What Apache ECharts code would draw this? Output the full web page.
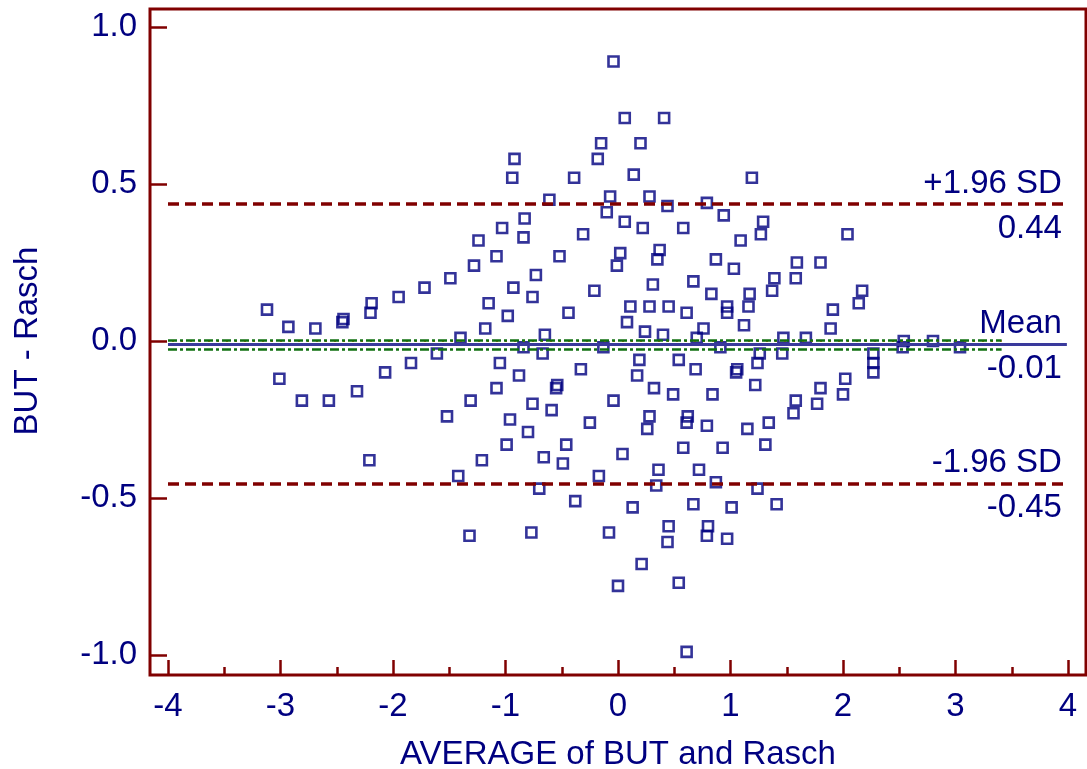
<!DOCTYPE html>
<html lang="en">
<head>
<meta charset="UTF-8">
<title>BUT - Rasch</title>
<script src="https://cdn.jsdelivr.net/npm/echarts@6/dist/echarts.min.js"></script>
<style>
    html, body { margin: 0; padding: 0; background: #fff; }
    #chart { width: 1087px; height: 769px; }
</style>
</head>
<body>
<div id="chart"></div>
<script>
    // AVERAGE of BUT and Rasch
    var avgVals = [
        -3.12,-3.01,-2.93,-2.81,-2.69,-2.57,-2.44,-2.45,-2.32,-2.19,
        -2.20,-2.21,-2.07,-1.95,-1.84,-1.72,-1.61,-1.52,-1.49,-1.42,
        -1.40,-1.32,-1.31,-1.28,-1.24,-1.21,-1.18,-1.15,-1.08,-1.08,
        -1.05,-1.03,-0.98,-0.99,-0.96,-0.94,-0.92,-0.93,-0.88,-0.84,
        -0.84,-0.83,-0.80,-0.77,-0.76,-0.76,-0.73,-0.70,-0.67,-0.66,
        -0.65,-0.61,-0.59,-0.54,-0.55,-0.52,-0.49,-0.46,-0.44,-0.39,
        -0.38,-0.33,-0.31,-0.25,-0.21,-0.18,-0.17,-0.15,-0.13,-0.10,
        -0.08,-0.07,-0.04,-0.04,-0.01,0.00,0.02,0.04,0.06,0.06,
        0.08,0.11,0.13,0.14,0.17,0.19,0.20,0.21,0.22,0.24,
        0.26,0.28,0.28,0.31,0.28,0.32,0.34,0.35,0.36,0.37,
        0.40,0.41,0.44,0.49,0.45,0.45,0.44,0.54,0.54,0.58,
        0.58,0.61,0.61,0.62,0.61,0.67,0.67,0.69,0.72,0.70,
        0.76,0.79,0.79,0.80,0.79,0.83,0.84,0.87,0.87,0.91,
        0.93,0.94,0.97,0.97,0.97,1.01,1.03,1.06,1.05,1.09,
        1.12,1.15,1.16,1.17,1.19,1.22,1.24,1.24,1.26,1.27,
        1.29,1.31,1.34,1.37,1.39,1.41,1.46,1.47,1.56,1.58,
        1.58,1.59,1.67,1.77,1.80,1.80,1.89,1.91,2.00,2.02,
        2.04,2.14,2.17,2.27,2.27,2.27,2.53,2.54,2.80,3.04
    ];
    // BUT - Rasch
    var diffVals = [
        0.10,-0.12,0.045,-0.19,0.04,-0.19,0.07,0.06,-0.16,0.12,
        0.09,-0.38,-0.10,0.14,-0.07,0.17,-0.04,-0.24,0.20,-0.43,
        0.01,-0.62,-0.19,0.24,0.32,-0.38,0.04,0.12,-0.15,0.27,
        -0.07,0.36,0.08,-0.33,-0.25,0.52,0.58,0.17,-0.11,0.33,
        -0.02,0.39,-0.29,-0.61,0.14,-0.20,0.21,-0.47,-0.04,-0.37,
        0.02,0.45,-0.22,-0.14,-0.15,0.27,-0.39,-0.33,0.09,0.52,
        -0.51,-0.09,0.34,-0.26,0.16,0.58,-0.43,0.63,-0.02,0.41,
        -0.61,0.46,-0.19,0.89,0.24,-0.78,0.28,-0.36,0.71,0.38,
        0.06,0.11,-0.53,0.53,-0.11,-0.06,0.63,-0.71,0.36,0.03,
        -0.28,-0.24,0.46,0.18,0.11,-0.15,-0.46,0.26,-0.41,0.29,
        0.02,0.71,0.43,-0.17,0.11,-0.59,-0.64,-0.77,-0.06,0.36,
        -0.34,-0.99,0.09,-0.24,-0.26,0.19,-0.52,-0.09,-0.41,0.01,
        0.04,0.44,-0.27,-0.59,-0.62,0.15,-0.17,-0.45,0.26,-0.02,
        -0.34,0.40,0.11,0.09,-0.63,-0.53,0.23,-0.09,-0.10,0.32,
        0.05,-0.28,0.11,0.15,0.52,-0.14,-0.07,-0.47,-0.04,0.34,
        0.38,-0.33,-0.26,0.16,0.20,-0.52,-0.04,0.01,-0.23,-0.19,
        0.20,0.25,0.01,-0.20,-0.15,0.25,0.04,0.10,-0.17,-0.12,
        0.34,0.12,0.16,-0.04,-0.07,-0.10,-0.02,0.00,0.00,-0.02
    ];

    // limits of agreement: +1.96 SD, mean, -1.96 SD
    var limitVals = [0.436, -0.0095, -0.455];
    var limitNames = ['+1.96 SD', 'Mean', '-1.96 SD'];
    var limitLabels = ['0.44', '-0.01', '-0.45'];
    // confidence lines of the mean and zero line
    var ciVals = [0.003, -0.025];
    var zeroVal = 0;
    var lineStart = -4, lineEnd = 3.99, ciEnd = 3.41;

    var navy = '#000080';
    var frame = '#800000';
    var font = '"Liberation Sans", Arial, sans-serif';
    var fs = 33;

    var points = [];
    for (var i = 0; i < avgVals.length; i++) {
        points.push([avgVals[i], diffVals[i]]);
    }

    function hline(y, x0, x1, lineStyle, label) {
        return [
            {coord: [x0, y], lineStyle: lineStyle, label: label || {show: false}},
            {coord: [x1, y]}
        ];
    }

    var textStyle = {color: navy, fontSize: fs, fontFamily: font};
    var sdStyle = {color: frame, width: 3.5, type: [11, 6]};
    var markData = [];
    markData.push(hline(zeroVal, lineStart, ciEnd, {color: '#ff6a00', width: 2, type: [2, 7], dashOffset: 5}));
    markData.push(hline(ciVals[0], lineStart, ciEnd, {color: '#107010', width: 2.5, type: [9, 3, 3, 3]}));
    markData.push(hline(ciVals[1], lineStart, ciEnd, {color: '#107010', width: 2.5, type: [9, 3, 3, 3]}));
    for (var k = 0; k < limitVals.length; k++) {
        var st = k === 1 ? {color: '#3a3a9c', width: 3, type: 'solid'} : sdStyle;
        markData.push(hline(limitVals[k], lineStart, lineEnd, st,
            Object.assign({show: true, position: 'insideEndTop', distance: [5, 4], formatter: limitNames[k]}, textStyle)));
        markData.push(hline(limitVals[k], lineStart, lineEnd, {color: 'rgba(0,0,0,0)', width: 1},
            Object.assign({show: true, position: 'insideEndBottom', distance: [5, 8], formatter: limitLabels[k]}, textStyle)));
    }

    var option = {
        animation: false,
        backgroundColor: '#fff',
        grid: [
            {left: 150, top: 9, right: 1, bottom: 94, outerBoundsMode: 'none', containLabel: false,
                show: true, borderColor: frame, borderWidth: 3, backgroundColor: 'transparent'},
            {left: 168, top: 27, right: 19, bottom: 114, outerBoundsMode: 'none', containLabel: false}
        ],
        xAxis: [
            {gridIndex: 0, show: false, min: 0, max: 1},
            {
                gridIndex: 1, type: 'value', min: -4, max: 4, interval: 1, offset: 20,
                axisLine: {show: false, onZero: false},
                axisTick: {show: true, inside: true, length: 15, lineStyle: {color: frame, width: 2.5}},
                minorTick: {show: true, splitNumber: 2, length: 8, lineStyle: {color: frame, width: 2.5}},
                splitLine: {show: false},
                axisLabel: {margin: 15, color: navy, fontSize: fs, fontFamily: font},
                name: 'AVERAGE of BUT and Rasch', nameLocation: 'middle', nameGap: 63,
                nameTextStyle: textStyle
            }
        ],
        yAxis: [
            {gridIndex: 0, show: false, min: 0, max: 1},
            {
                gridIndex: 1, type: 'value', min: -1, max: 1, interval: 0.5, offset: 18,
                axisLine: {show: false, onZero: false},
                axisTick: {show: true, inside: true, length: 17, lineStyle: {color: frame, width: 2.5}},
                splitLine: {show: false},
                axisLabel: {margin: 13, color: navy, fontSize: fs, fontFamily: font,
                    formatter: function (v) { return v.toFixed(1); }},
                name: 'BUT - Rasch', nameLocation: 'middle', nameGap: 106,
                nameTextStyle: textStyle
            }
        ],
        series: [
            {
                type: 'scatter', xAxisIndex: 1, yAxisIndex: 1,
                symbol: 'rect', symbolSize: 10,
                itemStyle: {color: 'rgba(0,0,0,0)', borderColor: navy, borderWidth: 2.6},
                data: points, z: 2
            },
            {
                type: 'line', xAxisIndex: 1, yAxisIndex: 1, data: [], z: 5, silent: true,
                markLine: {silent: true, symbol: ['none', 'none'], animation: false, data: markData}
            }
        ]
    };

    var chart = echarts.init(document.getElementById('chart'));
    chart.setOption(option);
</script>
</body>
</html>
